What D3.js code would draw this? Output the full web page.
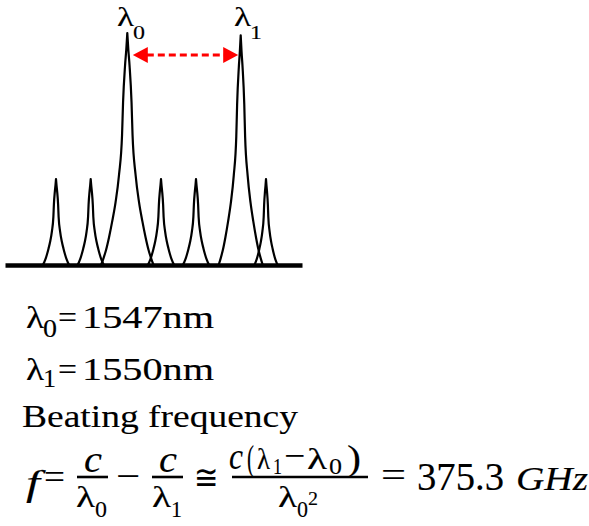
<!DOCTYPE html>
<html>
<head>
<meta charset="utf-8">
<script src="https://cdnjs.cloudflare.com/ajax/libs/d3/7.8.5/d3.min.js"></script>
<style>
  body { margin: 0; background: #fff; }
</style>
</head>
<body>
<div id="container"></div>
<script>
// spectrum: mode positions (arbitrary spectral units), relative heights, half base widths
var peakPos = [51, 85.7, 122.3, 156, 191, 235.7, 261];
var peakLevel = [0.37, 0.37, 1.0, 0.37, 0.37, 0.99, 0.37];
var peakHalfWidth = [12.5, 12.5, 25, 12.5, 12.5, 21, 11];
// line shape (offset in half widths -> relative height)
var shapeOffset = [0, 0.04, 0.09, 0.17, 0.21, 0.33, 0.47, 0.6, 0.73, 0.85, 0.95, 1.05];
var shapeLevel = [1, 0.93, 0.86, 0.7, 0.56, 0.39, 0.27, 0.19, 0.12, 0.065, 0.03, 0];
var labelIdx = [2, 5]; // lambda0, lambda1
var arrowLevel = 0.905;

var w = 589, h = 526;
var serif = "'Liberation Serif', 'Times New Roman', serif";

var svg = d3.select("#container").append("svg")
    .attr("width", w)
    .attr("height", h);

var x = d3.scaleLinear().domain([0, 297]).range([5, 302]);
var y = d3.scaleLinear().domain([0, 1]).range([265, 33]);

var half = d3.line()
    .x(function(d) { return x(d[0]); })
    .y(function(d) { return y(d[1]); })
    .curve(d3.curveMonotoneX);

function peakPath(i) {
    var left = [], right = [];
    shapeOffset.forEach(function(o, k) {
        var lv = shapeLevel[k] * peakLevel[i];
        left.unshift([peakPos[i] - o * peakHalfWidth[i], lv]);
        right.push([peakPos[i] + o * peakHalfWidth[i], lv]);
    });
    return half(left) + half(right);
}

// peaks
svg.append("g").selectAll("path")
    .data(peakPos)
    .enter()
    .append("path")
    .attr("d", function(d, i) { return peakPath(i); })
    .attr("fill", "none")
    .attr("stroke", "#000")
    .attr("stroke-width", 2.2)
    .attr("stroke-linecap", "round")
    .attr("stroke-linejoin", "round");

// baseline
var axis = svg.append("g")
    .attr("transform", "translate(0," + y(0) + ")")
    .call(d3.axisBottom(x).tickValues([]).tickSizeOuter(0));
axis.select(".domain").attr("stroke", "#000").attr("stroke-width", 4.5);

// red arrow between lambda0 and lambda1
var ay = y(arrowLevel);
var ax0 = x(peakPos[labelIdx[0]]) + 5.5;
var ax1 = x(peakPos[labelIdx[1]]) - 2.5;
var head = 15, hw = 8;
svg.append("line")
    .attr("x1", ax0 + head - 1).attr("x2", ax1 - head + 1)
    .attr("y1", ay).attr("y2", ay)
    .attr("stroke", "#f00")
    .attr("stroke-width", 3)
    .attr("stroke-dasharray", "7,4");
svg.append("path")
    .attr("d", "M" + ax0 + "," + ay + "L" + (ax0 + head) + "," + (ay - hw) + "L" + (ax0 + head) + "," + (ay + hw) + "Z")
    .attr("fill", "#f00");
svg.append("path")
    .attr("d", "M" + ax1 + "," + ay + "L" + (ax1 - head) + "," + (ay - hw) + "L" + (ax1 - head) + "," + (ay + hw) + "Z")
    .attr("fill", "#f00");

// text helper: x, baseline y, string, size, width, italic
function put(tx, ty, s, size, len, italic) {
    var t = svg.append("text")
        .attr("x", tx).attr("y", ty)
        .attr("font-size", size)
        .style("font-family", serif)
        .attr("fill", "#000")
        .attr("stroke", "#000")
        .attr("stroke-width", 0.12)
        .text(s);
    if (len) t.attr("textLength", len).attr("lengthAdjust", "spacingAndGlyphs");
    if (italic) t.attr("font-style", "italic");
    return t;
}

// peak labels
put(117, 26, "λ", 27, 17);
put(133, 39, "0", 19, 12);
put(234, 26, "λ", 27, 17);
put(250, 39, "1", 19, 12);

// values
put(26, 328, "λ", 31, 18);
put(43, 337, "0", 25, 14);
put(58, 328, "=", 31, 19);
put(82, 328, "1547nm", 31, 132);

put(26, 380, "λ", 31, 18);
put(43, 387, "1", 25, 13);
put(58, 380, "=", 31, 19);
put(82, 380, "1550nm", 31, 132);

put(22, 427, "Beating frequency", 31, 276);

// formula
function bar(x1, x2) {
    svg.append("line")
        .attr("x1", x1).attr("x2", x2)
        .attr("y1", 477).attr("y2", 477)
        .attr("stroke", "#000").attr("stroke-width", 2.6);
}
put(26, 495, "f", 36, 14, true);
put(44, 489, "=", 36, 21);

bar(77, 108);
put(84, 472, "c", 38, 18, true);
put(76, 507, "λ", 29, 19);
put(95, 517, "0", 24, 12);

put(116, 488, "−", 36, 24);

bar(152, 183);
put(159, 472, "c", 38, 18, true);
put(152, 507, "λ", 29, 19);
put(171, 517, "1", 24, 11);

put(194, 489, "≅", 34, 24);

bar(232, 368);
put(229, 469, "c", 38, 14, true);
put(247, 470, "(", 35, 7);
put(257, 469, "λ", 29, 13);
put(273, 474, "1", 24, 9);
put(284, 467, "−", 34, 21);
put(307, 469, "λ", 29, 20);
put(329, 474, "0", 24, 13);
put(347, 470, ")", 35, 14);
put(278, 507, "λ", 29, 19);
put(297, 517, "0", 24, 11);
put(308, 505, "2", 18, 10);

put(381, 487, "=", 36, 25);
put(417, 490, "375.3", 40, 87);
put(516, 490, "GHz", 34, 72, true);
</script>
</body>
</html>
